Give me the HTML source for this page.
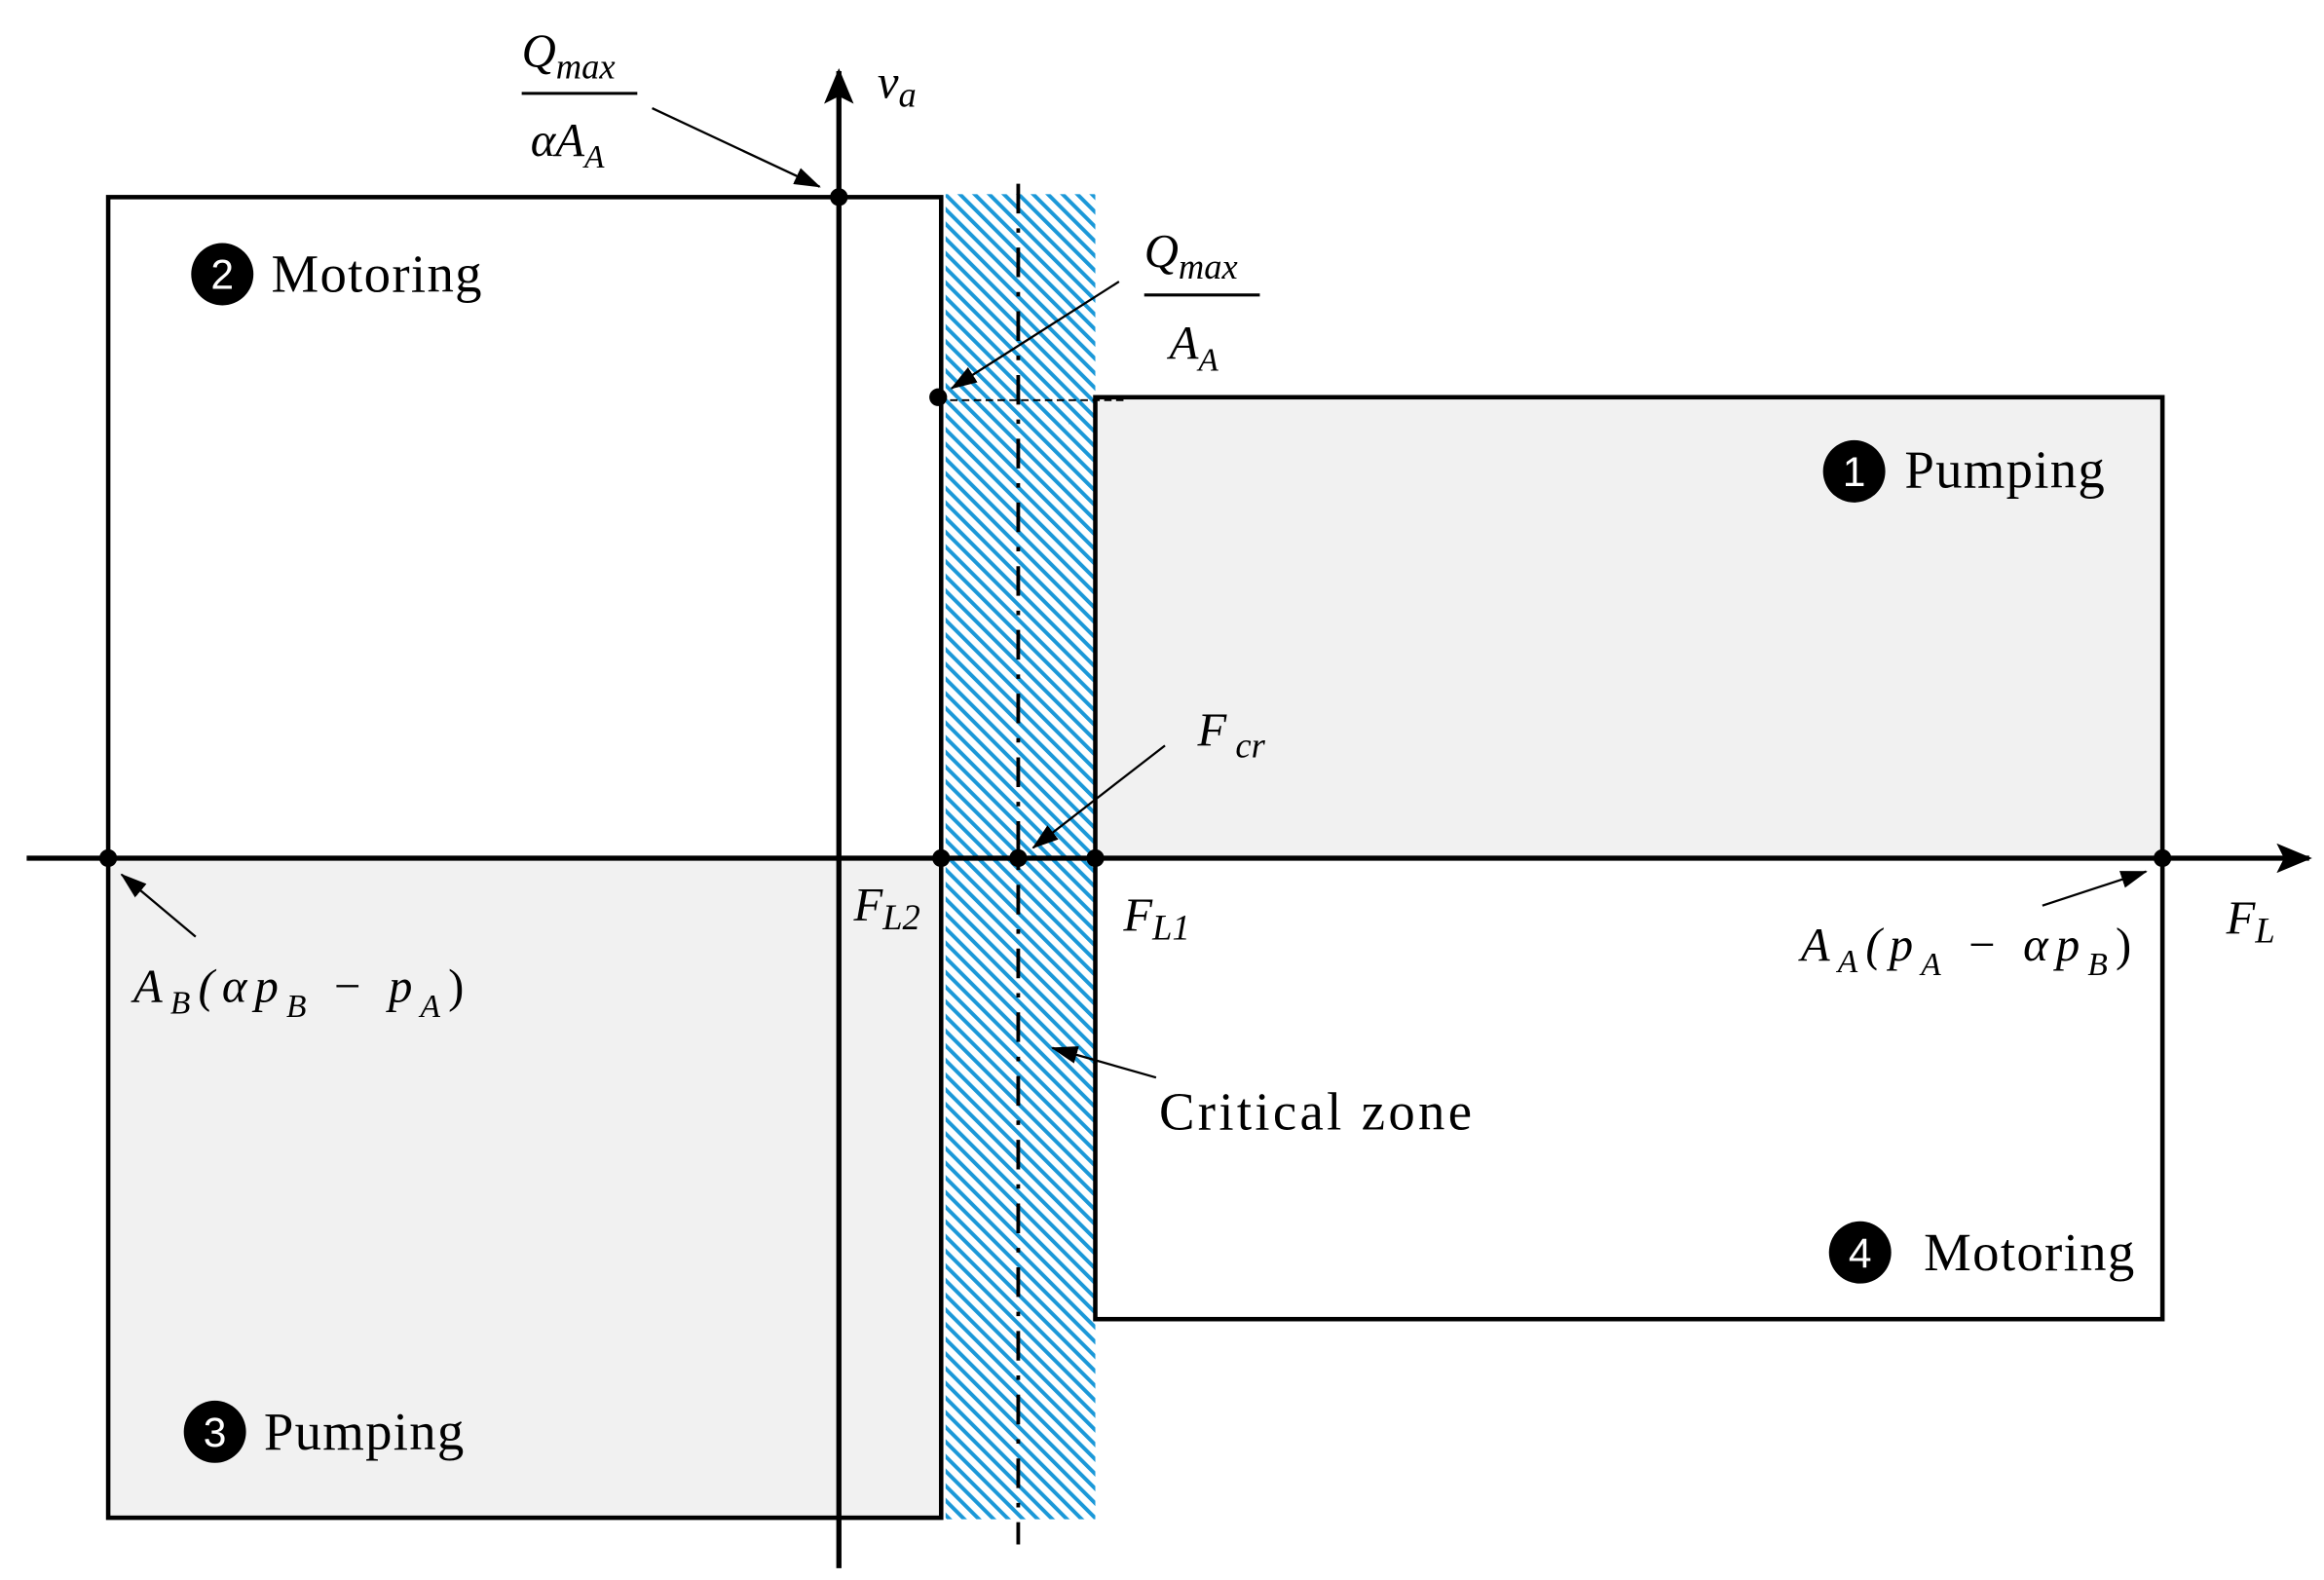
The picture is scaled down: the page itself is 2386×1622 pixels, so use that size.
<!DOCTYPE html>
<html><head><meta charset="utf-8"><style>
html,body{margin:0;padding:0;background:#fff}
svg{display:block}
text{font-family:"Liberation Serif",serif;fill:#000}
.i{font-style:italic}
</style></head><body>
<svg width="2386" height="1622" viewBox="0 0 1568 1066" preserveAspectRatio="none" xmlns="http://www.w3.org/2000/svg">
<defs>
<pattern id="h" patternUnits="userSpaceOnUse" width="7" height="7" patternTransform="rotate(-45)">
<rect x="0" y="0" width="2.6" height="7" fill="#1b98d8"/>
</pattern>
<marker id="a" markerWidth="18" markerHeight="12" refX="17" refY="6" orient="auto" markerUnits="userSpaceOnUse">
<path d="M0,0 L18,6 L0,12 z" fill="#000"/>
</marker>
<marker id="ax" markerWidth="24" markerHeight="20" refX="22" refY="10" orient="auto" markerUnits="userSpaceOnUse">
<path d="M0,0 L24,10 L0,20 L5,10 z" fill="#000"/>
</marker>
</defs>
<rect x="73" y="579" width="562" height="445" fill="#f1f1f1"/>
<rect x="739" y="268" width="720" height="311" fill="#f1f1f1"/>
<rect x="638" y="131" width="101" height="894" fill="url(#h)"/>
<rect x="73" y="133" width="562" height="891" fill="none" stroke="#000" stroke-width="3"/>
<rect x="739" y="268" width="720" height="622" fill="none" stroke="#000" stroke-width="3"/>
<line x1="633" y1="270" x2="760" y2="270" stroke="#000" stroke-width="1.2" stroke-dasharray="5,3"/>
<line x1="687" y1="124" x2="687" y2="1042" stroke="#000" stroke-width="2.5" stroke-dasharray="20,10,3,10"/>
<line x1="18" y1="579" x2="1558" y2="579" stroke="#000" stroke-width="3.5" marker-end="url(#ax)"/>
<line x1="566" y1="1058" x2="566" y2="48" stroke="#000" stroke-width="3.5" marker-end="url(#ax)"/>
<g fill="#000">
<circle cx="566" cy="133" r="6"/><circle cx="633" cy="268" r="6"/>
<circle cx="73" cy="579" r="6"/><circle cx="635" cy="579" r="6"/>
<circle cx="687" cy="579" r="6"/><circle cx="739" cy="579" r="6"/>
<circle cx="1459" cy="579" r="6"/>
</g>
<g stroke="#000" stroke-width="1.5" fill="none">
<line x1="440" y1="73" x2="553" y2="126" marker-end="url(#a)"/>
<line x1="755" y1="190" x2="642" y2="262" marker-end="url(#a)"/>
<line x1="786" y1="503" x2="697" y2="572" marker-end="url(#a)"/>
<line x1="132" y1="632" x2="82" y2="590" marker-end="url(#a)"/>
<line x1="1378" y1="611" x2="1448" y2="588" marker-end="url(#a)"/>
<line x1="780" y1="727" x2="710" y2="707" marker-end="url(#a)"/>
</g>
<text x="352" y="45" font-size="32" class="i">Q<tspan font-size="24" dy="8">max</tspan></text>
<line x1="352" y1="63" x2="430" y2="63" stroke="#000" stroke-width="2"/>
<text x="358" y="105" font-size="32" class="i">αA<tspan font-size="22" dy="8">A</tspan></text>
<text x="592" y="66" font-size="32" class="i">v<tspan font-size="24" dy="6">a</tspan></text>
<text x="772" y="180" font-size="32" class="i">Q<tspan font-size="24" dy="8">max</tspan></text>
<line x1="772" y1="199" x2="850" y2="199" stroke="#000" stroke-width="2"/>
<text x="789" y="242" font-size="32" class="i">A<tspan font-size="22" dy="8">A</tspan></text>
<text x="808" y="503" font-size="32" class="i">F<tspan font-size="24" dy="8"> cr</tspan></text>
<text x="576" y="621" font-size="32" class="i">F<tspan font-size="24" dy="6">L2</tspan></text>
<text x="758" y="628" font-size="32" class="i">F<tspan font-size="24" dy="6">L1</tspan></text>
<text x="1502" y="630" font-size="32" class="i">F<tspan font-size="24" dy="6">L</tspan></text>
<text x="90" y="676" font-size="32" class="i" textLength="223">A<tspan font-size="22" dy="8">B</tspan><tspan dy="-8">(αp</tspan><tspan font-size="22" dy="10">B</tspan><tspan dy="-10" font-style="normal"> − </tspan><tspan>p</tspan><tspan font-size="22" dy="10">A</tspan><tspan dy="-10" font-style="normal">)</tspan></text>
<text x="1215" y="648" font-size="32" class="i" textLength="223">A<tspan font-size="22" dy="8">A</tspan><tspan dy="-8">(p</tspan><tspan font-size="22" dy="10">A</tspan><tspan dy="-10" font-style="normal"> − </tspan><tspan>αp</tspan><tspan font-size="22" dy="10">B</tspan><tspan dy="-10" font-style="normal">)</tspan></text>
<text x="782" y="762" font-size="36" textLength="211">Critical zone</text>
<g>
<circle cx="150" cy="185" r="21" fill="#000"/><text x="150" y="195" font-size="28" text-anchor="middle" style="fill:#fff;font-family:'Liberation Sans',sans-serif">2</text>
<text x="183" y="197" font-size="36" textLength="142">Motoring</text>
<circle cx="1251" cy="318" r="21" fill="#000"/><text x="1251" y="328" font-size="28" text-anchor="middle" style="fill:#fff;font-family:'Liberation Sans',sans-serif">1</text>
<text x="1285" y="329" font-size="36" textLength="135">Pumping</text>
<circle cx="145" cy="966" r="21" fill="#000"/><text x="145" y="976" font-size="28" text-anchor="middle" style="fill:#fff;font-family:'Liberation Sans',sans-serif">3</text>
<text x="178" y="978" font-size="36" textLength="135">Pumping</text>
<circle cx="1255" cy="845" r="21" fill="#000"/><text x="1255" y="855" font-size="28" text-anchor="middle" style="fill:#fff;font-family:'Liberation Sans',sans-serif">4</text>
<text x="1298" y="857" font-size="36" textLength="142">Motoring</text>
</g>
</svg>
</body></html>
